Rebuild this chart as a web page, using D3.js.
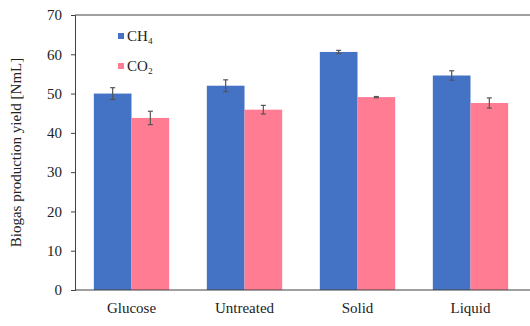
<!DOCTYPE html>
<html>
<head>
<meta charset="utf-8">
<script src="https://cdn.jsdelivr.net/npm/d3@7"></script>
<style>
  body { margin: 0; background: #fff; }
  text { font-family: "Liberation Serif", "Times New Roman", serif; fill: #222; }
</style>
</head>
<body>
<div id="vis"></div>
<script>
// data
let categories = ['Glucose', 'Untreated', 'Solid', 'Liquid'];
let seriesNames = ['CH\u2084', 'CO\u2082'];
let ch4 = [50.0, 52.0, 60.6, 54.6];
let ch4Err = [1.5, 1.5, 0.4, 1.2];
let co2 = [43.8, 45.9, 49.1, 47.6];
let co2Err = [1.7, 1.1, 0.15, 1.3];
let yTicks = [0, 10, 20, 30, 40, 50, 60, 70];

let colors = ['#4472C4', '#FF7C93'];

let margin = { top: 15, left: 75, right: 3, bottom: 36 },
  width = 530 - margin.left - margin.right,
  height = 326 - margin.top - margin.bottom;

let svg = d3.select('#vis')
  .append('svg')
  .attr('width', 530)
  .attr('height', 326);

let g = svg.append('g')
  .attr('transform', `translate(${margin.left},${margin.top})`);

let x = d3.scaleBand()
  .domain(categories)
  .range([0, width])
  .paddingInner(1 / 3)
  .paddingOuter(1 / 6);

let xSub = d3.scaleBand()
  .domain([0, 1])
  .range([0, x.bandwidth()]);

let y = d3.scaleLinear()
  .domain([0, 70])
  .range([height, 0]);

// table built from the arrays
let rows = categories.map((c, i) => ({
  cat: c,
  vals: [
    { s: 0, v: ch4[i], e: ch4Err[i] },
    { s: 1, v: co2[i], e: co2Err[i] }
  ]
}));

// frame (top edge)
g.append('line')
  .attr('x1', 0).attr('x2', width + margin.right)
  .attr('y1', 0).attr('y2', 0)
  .attr('stroke', '#404040');

let groups = g.selectAll('.grp')
  .data(rows)
  .join('g')
  .attr('transform', d => `translate(${x(d.cat)},0)`);

groups.selectAll('rect')
  .data(d => d.vals)
  .join('rect')
  .attr('x', d => xSub(d.s))
  .attr('y', d => y(d.v))
  .attr('width', xSub.bandwidth())
  .attr('height', d => height - y(d.v))
  .attr('fill', d => colors[d.s]);

// error bars
let eb = groups.selectAll('.err')
  .data(d => d.vals)
  .join('g')
  .attr('class', 'err')
  .attr('stroke', '#555')
  .attr('stroke-width', 1.2);

eb.append('line')
  .attr('x1', d => xSub(d.s) + xSub.bandwidth() / 2)
  .attr('x2', d => xSub(d.s) + xSub.bandwidth() / 2)
  .attr('y1', d => y(d.v + d.e))
  .attr('y2', d => y(d.v - d.e));
eb.append('line')
  .attr('x1', d => xSub(d.s) + xSub.bandwidth() / 2 - 2.5)
  .attr('x2', d => xSub(d.s) + xSub.bandwidth() / 2 + 2.5)
  .attr('y1', d => y(d.v + d.e))
  .attr('y2', d => y(d.v + d.e));
eb.append('line')
  .attr('x1', d => xSub(d.s) + xSub.bandwidth() / 2 - 2.5)
  .attr('x2', d => xSub(d.s) + xSub.bandwidth() / 2 + 2.5)
  .attr('y1', d => y(d.v - d.e))
  .attr('y2', d => y(d.v - d.e));

// axes
let yAxis = g.append('g')
  .call(d3.axisLeft(y).tickValues(yTicks).tickSize(4).tickPadding(9));
yAxis.select('.domain').attr('stroke', '#404040');
yAxis.selectAll('.tick line').attr('stroke', '#404040');
yAxis.selectAll('text').style('font-size', '15px').attr('fill', '#222');

let xAxis = g.append('g')
  .attr('transform', `translate(0,${height})`)
  .call(d3.axisBottom(x).tickSize(0).tickPadding(12));
xAxis.select('.domain').attr('stroke', '#404040')
  .attr('d', `M0,0H${width + margin.right}`);
xAxis.selectAll('text').style('font-size', '15px').attr('fill', '#222');

// y label
svg.append('text')
  .attr('transform', `translate(21,${margin.top + height / 2}) rotate(-90)`)
  .attr('text-anchor', 'middle')
  .style('font-size', '15px')
  .text('Biogas production yield [NmL]');

// legend
let legend = g.selectAll('.leg')
  .data(seriesNames)
  .join('g')
  .attr('transform', (d, i) => `translate(43,${18 + i * 30})`);
legend.append('rect')
  .attr('width', 6).attr('height', 6)
  .attr('fill', (d, i) => colors[i]);
legend.append('text')
  .attr('x', 9).attr('y', 8)
  .style('font-size', '15px')
  .text(d => d);
</script>
</body>
</html>
